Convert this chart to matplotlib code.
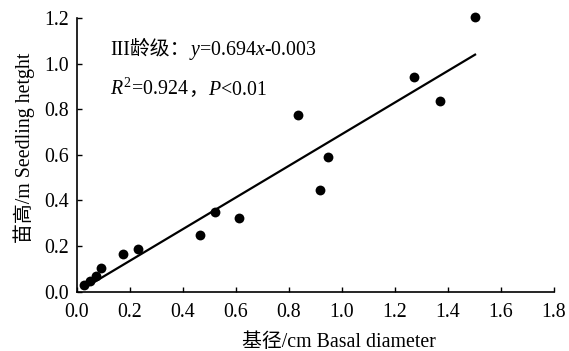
import matplotlib
matplotlib.use('Agg')
import matplotlib.pyplot as plt
from matplotlib.offsetbox import TextArea, HPacker, AnnotationBbox
import numpy as np

plt.rcParams['font.family'] = ['Liberation Serif', 'Noto Sans CJK SC']
plt.rcParams['mathtext.fontset'] = 'custom'
plt.rcParams['mathtext.rm'] = 'Liberation Serif'
plt.rcParams['mathtext.it'] = 'Liberation Serif:italic'
plt.rcParams['mathtext.bf'] = 'Liberation Serif:bold'

# Data
basal_diameter = [0.028, 0.049, 0.071, 0.091, 0.175, 0.231, 0.464, 0.521, 0.612,
                  0.835, 0.917, 0.948, 1.273, 1.371, 1.502]
seedling_height = [0.029, 0.047, 0.069, 0.104, 0.167, 0.186, 0.250, 0.350, 0.325,
                   0.774, 0.446, 0.592, 0.942, 0.835, 1.206]
slope = 0.694
intercept = -0.003
x_ticks = [0.0, 0.2, 0.4, 0.6, 0.8, 1.0, 1.2, 1.4, 1.6, 1.8]
y_ticks = [0.0, 0.2, 0.4, 0.6, 0.8, 1.0, 1.2]
xlabel = '基径/cm Basal diameter'
ylabel = '苗高/m Seedling hetght'

FS = 14.3

fig = plt.figure(figsize=(5.69, 3.51), dpi=100)
ax = fig.add_axes([0.1353, 0.169, 0.8384, 0.7797])

ax.scatter(basal_diameter, seedling_height, s=50, color='black', zorder=3,
           linewidths=0, clip_on=False)
xl = np.array([min(basal_diameter), max(basal_diameter)])
ax.plot(xl, slope * xl + intercept, color='black', lw=1.6, zorder=2)

ax.set_xlim(0, 1.8)
ax.set_ylim(0, 1.2)
ax.set_xticks(x_ticks)
ax.set_yticks(y_ticks)
ax.set_xticklabels([f'{v:.1f}' for v in x_ticks])
ax.set_yticklabels([f'{v:.1f}' for v in y_ticks])
ax.tick_params(direction='in', length=3.5, width=1, labelsize=FS)
ax.tick_params(axis='x', pad=8)
ax.tick_params(axis='y', pad=6)
for s in ['top', 'right']:
    ax.spines[s].set_visible(False)
for s in ['left', 'bottom']:
    ax.spines[s].set_linewidth(1.2)

ax.set_xlabel(xlabel, fontsize=FS)
ax.set_ylabel(ylabel, fontsize=FS)
ax.xaxis.set_label_coords(0.550, -0.151)
ax.yaxis.set_label_coords(-0.088, 0.527)

serif = dict(fontsize=FS, family=['Liberation Serif', 'Noto Sans CJK SC'], color='black')
line1 = HPacker(children=[TextArea('III龄级：', textprops=serif),
                          TextArea('$y$=0.694$x$-0.003', textprops=serif)],
                align='baseline', pad=0, sep=0)
line2 = HPacker(children=[TextArea('$R^2$=0.924', textprops=serif),
                          TextArea('，', textprops=serif),
                          TextArea('$P$<0.01', textprops=serif)],
                align='baseline', pad=0, sep=0)
for box, yy in [(line1, 0.882), (line2, 0.739)]:
    ab = AnnotationBbox(box, (0.069, yy), xycoords='axes fraction',
                        box_alignment=(0, 0.5), frameon=False, pad=0)
    ax.add_artist(ab)

fig.savefig('out.png', dpi=100)
